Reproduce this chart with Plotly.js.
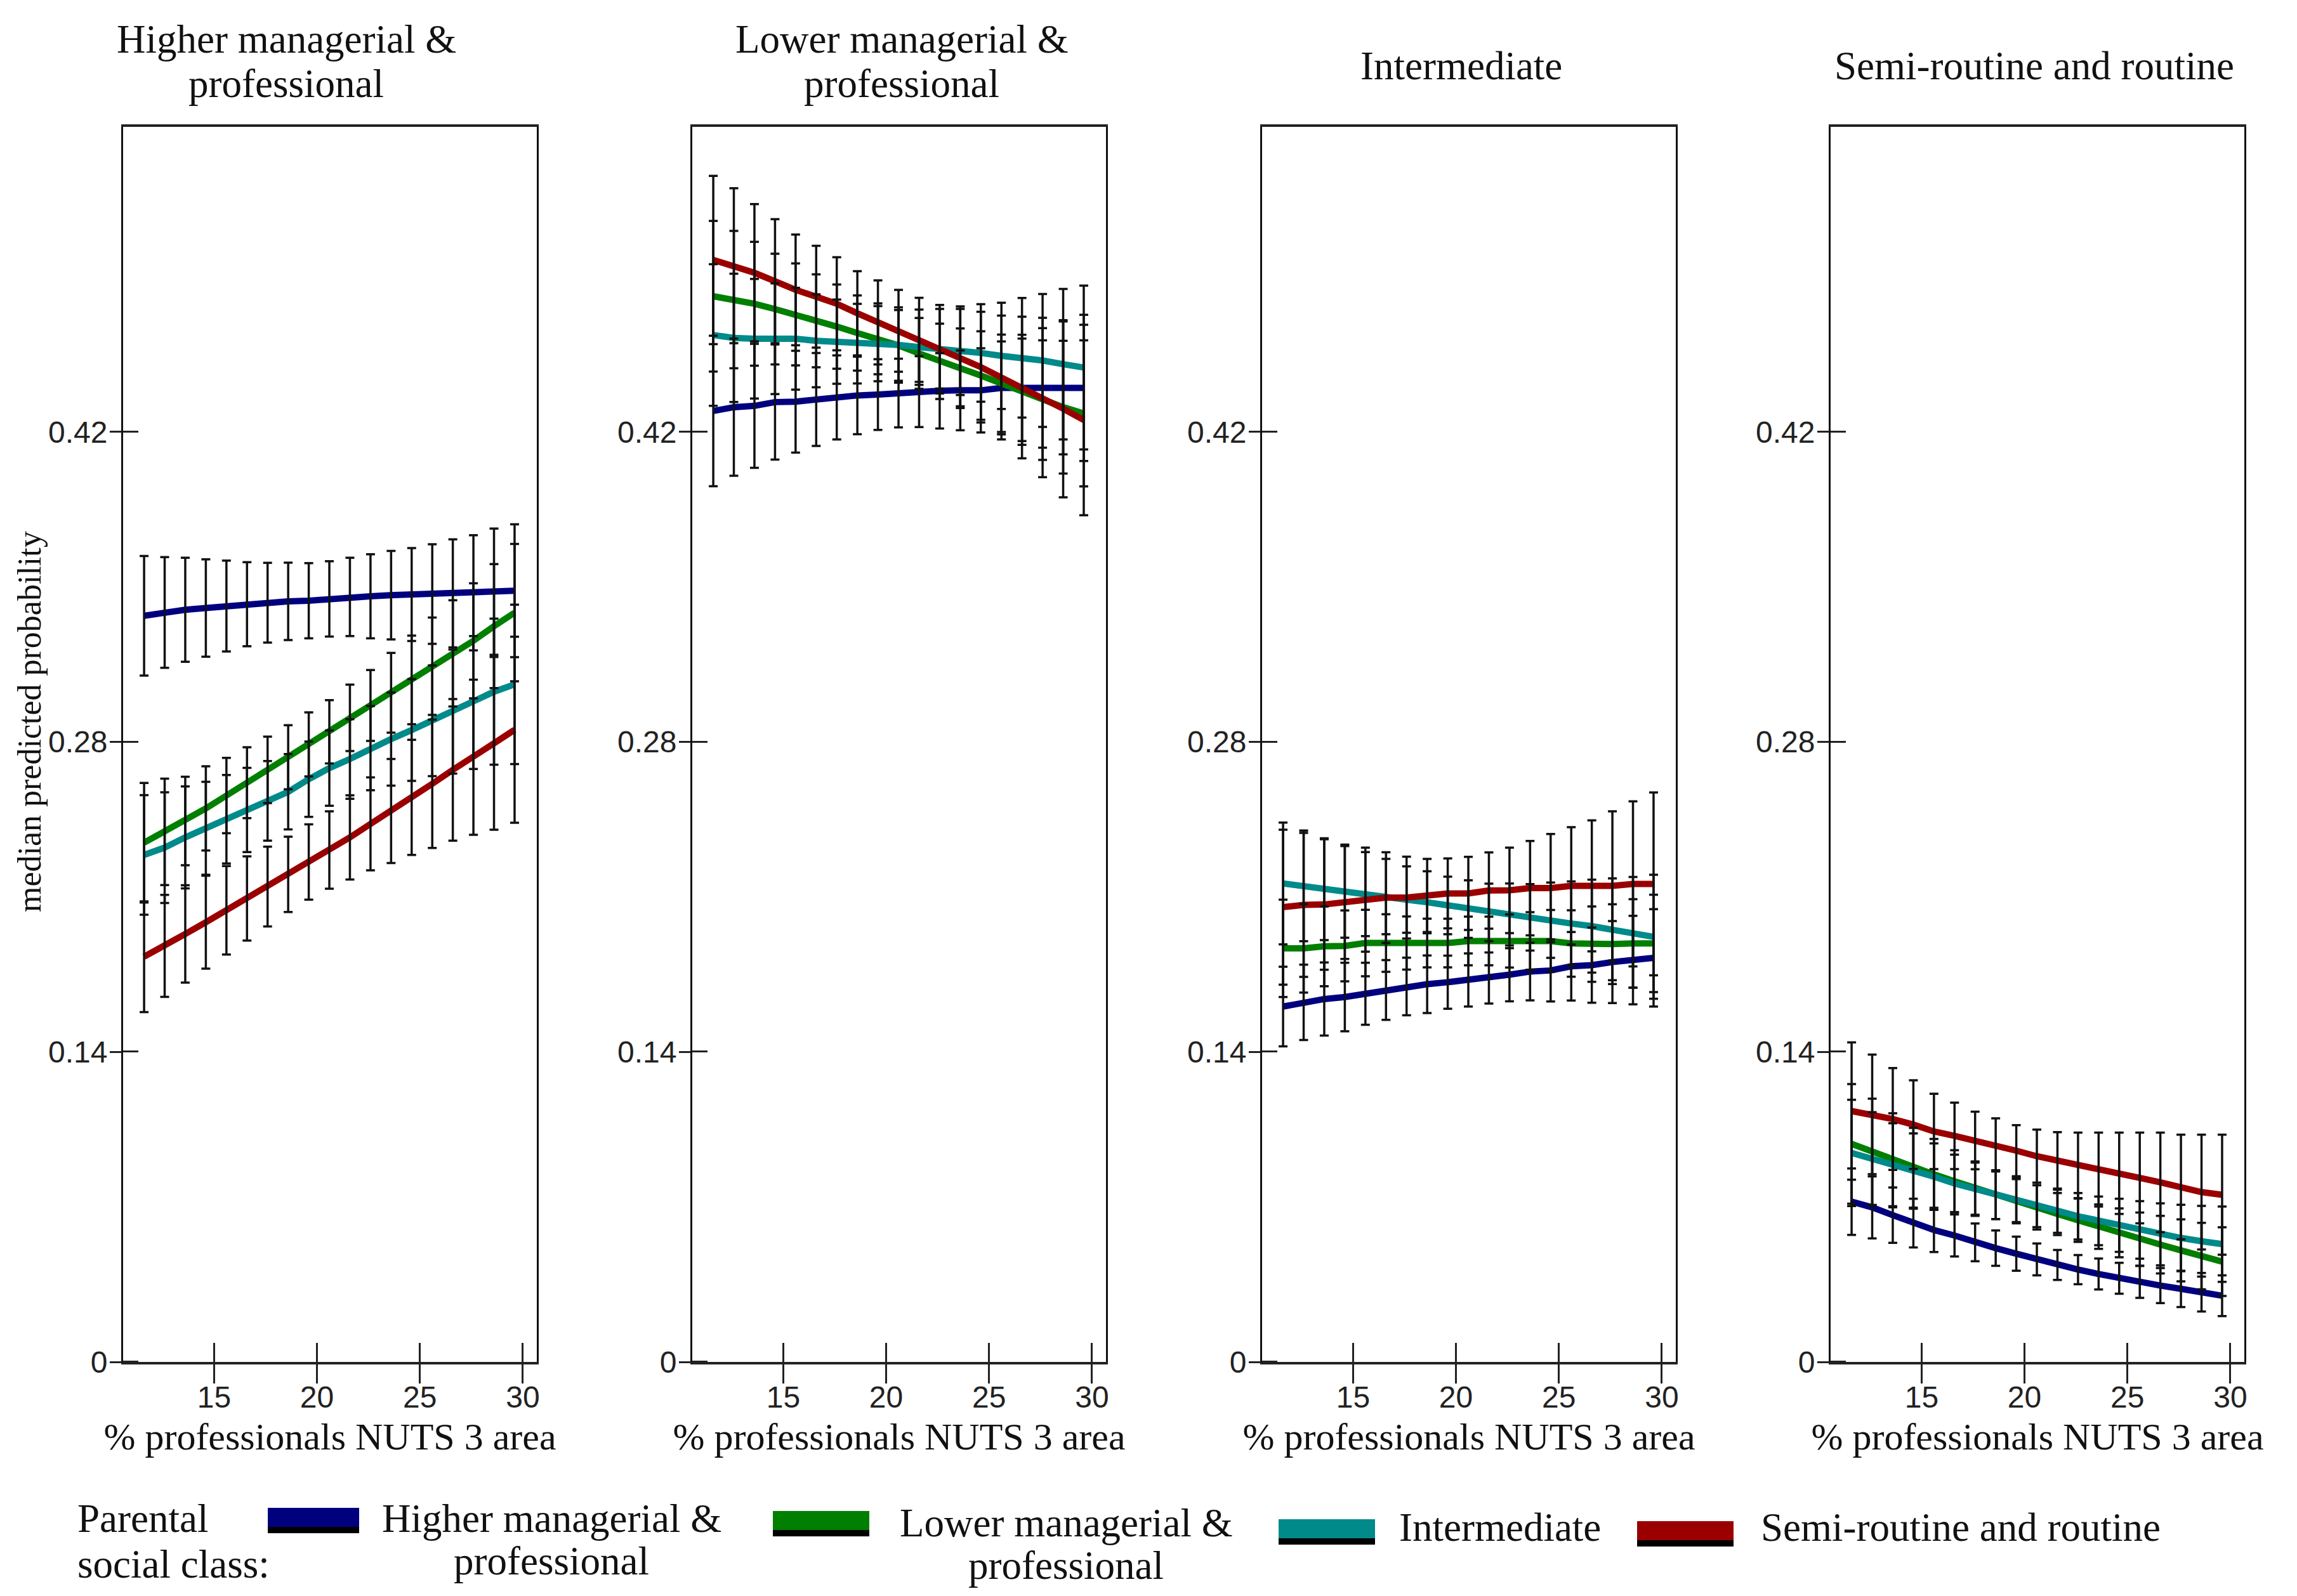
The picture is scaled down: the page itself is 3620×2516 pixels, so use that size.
<!DOCTYPE html>
<html>
<head>
<meta charset="utf-8">
<script src="https://cdn.plot.ly/plotly-3.0.1.min.js"></script>
<style>
html, body { margin: 0; padding: 0; background: #ffffff; }
#chart { width: 3620px; height: 2516px; }
</style>
</head>
<body>
<div id="chart"></div>
<script>
// ---------------- DATA ----------------
const panelTitleLines = [["Higher managerial &", "professional"], ["Lower managerial &", "professional"], ["Intermediate"], ["Semi-routine and routine"]];
const seriesNames = ["Higher managerial & professional", "Lower managerial & professional", "Intermediate", "Semi-routine and routine"];
const legendLabelLines = [["Higher managerial &", "professional"], ["Lower managerial &", "professional"], ["Intermediate"], ["Semi-routine and routine"]];
const legendHeadingLines = ["Parental", "social class:"];
const xTitle = "% professionals NUTS 3 area";
const yTitle = "median predicted probability";
const xTickVals = [15, 20, 25, 30];
const yTickVals = [0, 0.14, 0.28, 0.42];
const yTickText = ["0", "0.14", "0.28", "0.42"];

// % professionals in NUTS 3 area (x of every point / error bar)
const pctProfessionals = [11.6, 12.6, 13.6, 14.6, 15.6, 16.6, 17.6, 18.6, 19.6, 20.6, 21.6, 22.6, 23.6, 24.6, 25.6, 26.6, 27.6, 28.6, 29.6];

// Panel 1: destination Higher managerial & professional
const p1_higher = [0.3370,0.3385,0.3397,0.3405,0.3414,0.3422,0.3429,0.3435,0.3438,0.3446,0.3455,0.3458,0.3463,0.3466,0.3468,0.3471,0.3474,0.3479,0.3483];
const e1_higher = [0.027,0.025,0.0235,0.022,0.0205,0.019,0.018,0.0175,0.017,0.017,0.0177,0.019,0.020,0.021,0.0225,0.0244,0.026,0.0285,0.030];
const p1_lower  = [0.2345,0.2394,0.2443,0.2500,0.2558,0.2616,0.2674,0.2731,0.2789,0.2846,0.2909,0.2965,0.3022,0.3080,0.3142,0.3200,0.3257,0.3323,0.3384];
const e1_lower  = [0.027,0.024,0.020,0.019,0.017,0.016,0.015,0.0145,0.0145,0.0143,0.015,0.016,0.018,0.020,0.022,0.024,0.026,0.028,0.031];
const p1_inter  = [0.2290,0.2323,0.2369,0.2410,0.2451,0.2493,0.2534,0.2575,0.2632,0.2682,0.2723,0.2772,0.2813,0.2854,0.2896,0.2937,0.2978,0.3027,0.3060];
const e1_inter  = [0.027,0.025,0.023,0.021,0.020,0.019,0.018,0.017,0.017,0.017,0.018,0.019,0.021,0.023,0.025,0.028,0.030,0.033,0.036];
const p1_semi   = [0.1830,0.1879,0.1933,0.1986,0.2040,0.2093,0.2147,0.2202,0.2258,0.2312,0.2369,0.2430,0.2488,0.2550,0.2611,0.2674,0.2731,0.2794,0.2855];
const e1_semi   = [0.025,0.023,0.022,0.021,0.020,0.019,0.018,0.017,0.017,0.0175,0.019,0.021,0.0235,0.026,0.029,0.032,0.035,0.039,0.042];

// Panel 2: destination Lower managerial & professional
const p2_higher = [0.4295,0.4312,0.4318,0.4335,0.4337,0.4347,0.4356,0.4365,0.4369,0.4376,0.4382,0.4386,0.4388,0.4388,0.4399,0.4399,0.4399,0.4399,0.4399];
const e2_higher = [0.034,0.031,0.028,0.026,0.023,0.021,0.019,0.0175,0.016,0.0155,0.016,0.017,0.018,0.019,0.021,0.024,0.027,0.030,0.033];
const p2_lower  = [0.4813,0.4798,0.4779,0.4755,0.4731,0.4702,0.4676,0.4647,0.4621,0.4591,0.4555,0.4519,0.4488,0.4455,0.4420,0.4382,0.4344,0.4312,0.4284];
const e2_lower  = [0.034,0.031,0.028,0.025,0.023,0.021,0.019,0.017,0.016,0.016,0.016,0.017,0.018,0.020,0.022,0.024,0.027,0.030,0.033];
const p2_inter  = [0.4638,0.4625,0.4621,0.4621,0.4621,0.4612,0.4608,0.4599,0.4599,0.4593,0.4583,0.4576,0.4567,0.4557,0.4544,0.4535,0.4523,0.4506,0.4491];
const e2_inter  = [0.032,0.029,0.027,0.025,0.023,0.021,0.019,0.018,0.017,0.017,0.017,0.018,0.020,0.022,0.024,0.027,0.030,0.034,0.037];
const p2_semi   = [0.4977,0.4951,0.4919,0.4881,0.4842,0.4811,0.4779,0.4736,0.4695,0.4657,0.4616,0.4574,0.4536,0.4493,0.4446,0.4401,0.4356,0.4305,0.4254];
const e2_semi   = [0.038,0.035,0.031,0.028,0.025,0.023,0.021,0.019,0.019,0.0185,0.019,0.020,0.022,0.025,0.028,0.032,0.036,0.040,0.043];

// Panel 3: destination Intermediate
const p3_higher = [0.1605,0.1624,0.1639,0.1648,0.1663,0.1680,0.1696,0.1706,0.1715,0.1725,0.1734,0.1749,0.1763,0.1768,0.1787,0.1792,0.1806,0.1815,0.1825];
const e3_higher = [0.018,0.017,0.0165,0.0155,0.014,0.0135,0.013,0.013,0.012,0.012,0.0115,0.012,0.013,0.014,0.0155,0.017,0.0185,0.020,0.022];
const p3_lower  = [0.1868,0.1868,0.1877,0.1879,0.1892,0.1892,0.1892,0.1892,0.1892,0.1901,0.1901,0.1901,0.1901,0.1901,0.1890,0.1887,0.1887,0.1890,0.1890];
const e3_lower  = [0.022,0.020,0.018,0.016,0.015,0.013,0.012,0.011,0.011,0.011,0.011,0.012,0.013,0.014,0.015,0.017,0.018,0.020,0.022];
const p3_inter  = [0.2161,0.2150,0.2135,0.2126,0.2113,0.2102,0.2088,0.2076,0.2062,0.2045,0.2030,0.2021,0.2008,0.1995,0.1980,0.1968,0.1954,0.1940,0.1920];
const e3_inter  = [0.0275,0.025,0.023,0.021,0.019,0.017,0.015,0.014,0.013,0.013,0.013,0.014,0.015,0.017,0.019,0.021,0.023,0.025,0.028];
const p3_semi   = [0.2054,0.2064,0.2066,0.2075,0.2088,0.2097,0.2097,0.2107,0.2116,0.2116,0.2129,0.2130,0.2140,0.2140,0.2150,0.2150,0.2150,0.2159,0.2159];
const e3_semi   = [0.035,0.0325,0.0295,0.0255,0.0235,0.0205,0.0185,0.0165,0.0158,0.0165,0.0172,0.0193,0.0213,0.0244,0.0265,0.0296,0.0337,0.0373,0.0413];

// Panel 4: destination Semi-routine and routine
const p4_higher = [0.0724,0.0698,0.0663,0.0627,0.0596,0.0571,0.0540,0.0514,0.0489,0.0463,0.0438,0.0417,0.0397,0.0378,0.0361,0.0345,0.0330,0.0315,0.0299];
const e4_higher = [0.015,0.014,0.0125,0.011,0.010,0.0095,0.0085,0.008,0.0077,0.0072,0.0068,0.0066,0.007,0.007,0.0072,0.0079,0.0082,0.0087,0.0092];
const p4_lower  = [0.0985,0.0949,0.0913,0.0877,0.0847,0.0816,0.0785,0.0755,0.0726,0.0698,0.0668,0.0640,0.0611,0.0583,0.0555,0.0530,0.0504,0.0478,0.0453];
const e4_lower  = [0.027,0.024,0.021,0.018,0.016,0.014,0.012,0.011,0.010,0.010,0.0095,0.0098,0.010,0.011,0.012,0.013,0.014,0.015,0.0155];
const p4_inter  = [0.0944,0.0918,0.0888,0.0862,0.0837,0.0806,0.0780,0.0755,0.0732,0.0709,0.0683,0.0658,0.0637,0.0617,0.0596,0.0576,0.0560,0.0545,0.0532];
const e4_inter  = [0.024,0.021,0.019,0.017,0.015,0.013,0.012,0.011,0.010,0.010,0.010,0.0105,0.011,0.012,0.013,0.014,0.015,0.016,0.017];
const p4_semi   = [0.1133,0.1118,0.1097,0.1072,0.1041,0.1021,0.1000,0.0980,0.0954,0.0929,0.0908,0.0888,0.0869,0.0852,0.0831,0.0811,0.0790,0.0767,0.0755];
const e4_semi   = [0.031,0.027,0.023,0.020,0.017,0.015,0.013,0.012,0.0115,0.012,0.013,0.0148,0.0167,0.0184,0.0205,0.0225,0.0236,0.0259,0.0271];

// ---------------- STYLE / BUILD ----------------
const colors = ["#00007f", "#007f00", "#008a8a", "#9b0000"];
const serif = "Liberation Serif, DejaVu Serif, serif";
const narrow = "Liberation Sans Narrow, Arial Narrow, Liberation Sans, sans-serif";
const textSize = 63;

const panels = [
  { vals: [p1_higher, p1_lower, p1_inter, p1_semi], errs: [e1_higher, e1_lower, e1_inter, e1_semi] },
  { vals: [p2_higher, p2_lower, p2_inter, p2_semi], errs: [e2_higher, e2_lower, e2_inter, e2_semi] },
  { vals: [p3_higher, p3_lower, p3_inter, p3_semi], errs: [e3_higher, e3_lower, e3_inter, e3_semi] },
  { vals: [p4_higher, p4_lower, p4_inter, p4_semi], errs: [e4_higher, e4_lower, e4_inter, e4_semi] }
];

const W = 3620, H = 2516;
const px = v => v / W;
const py = v => 1 - v / H;
const panelLeft = [194, 1091, 1989, 2885];
const panelWidth = 652;
const plotTop = 200, plotBottom = 2147;

const traces = [];
const errTraces = [];
panels.forEach((pn, p) => {
  const xa = p === 0 ? "x" : "x" + (p + 1);
  const ya = p === 0 ? "y" : "y" + (p + 1);
  pn.vals.forEach((vals, s) => {
    traces.push({
      type: "scatter", mode: "lines", x: pctProfessionals, y: vals,
      xaxis: xa, yaxis: ya, name: seriesNames[s], showlegend: false,
      line: { color: colors[s], width: 10 }, hoverinfo: "x+y+name"
    });
    errTraces.push({
      type: "scatter", mode: "markers", x: pctProfessionals, y: vals,
      xaxis: xa, yaxis: ya, name: seriesNames[s] + " CI", showlegend: false,
      marker: { size: 2, color: "rgba(0,0,0,0)" },
      error_y: { type: "data", array: pn.errs[s], visible: true, color: "#111111", thickness: 3.5, width: 7 },
      hoverinfo: "skip"
    });
  });
});

const layout = {
  width: W, height: H,
  margin: { l: 0, r: 0, t: 0, b: 0 },
  paper_bgcolor: "#ffffff", plot_bgcolor: "#ffffff",
  showlegend: false,
  font: { family: serif, color: "#111111" },
  annotations: [], shapes: []
};

for (let p = 0; p < 4; p++) {
  const sfx = p === 0 ? "" : String(p + 1);
  layout["xaxis" + sfx] = {
    domain: [px(panelLeft[p]), px(panelLeft[p] + panelWidth)],
    anchor: "y" + sfx,
    range: [10.58, 30.68],
    tickmode: "array", tickvals: xTickVals,
    ticks: "outside", ticklen: 30, tickwidth: 3, tickcolor: "#222222",
    ticklabelstandoff: -20,
    minor: { tickmode: "array", tickvals: xTickVals.map(v => v + 0.001), ticks: "inside", ticklen: 30, tickwidth: 3, tickcolor: "#222222", showgrid: false },
    showline: true, linewidth: 4, linecolor: "#222222", mirror: true,
    showgrid: false, zeroline: false,
    tickfont: { family: narrow, size: 48, color: "#222222" },
    title: { text: xTitle, font: { family: serif, size: 60, color: "#111111" }, standoff: 16 },
    fixedrange: true
  };
  layout["yaxis" + sfx] = {
    domain: [py(plotBottom), py(plotTop)],
    anchor: "x" + sfx,
    range: [0, 0.5578],
    tickmode: "array", tickvals: yTickVals, ticktext: yTickText,
    ticks: "outside", ticklen: 18, tickwidth: 3, tickcolor: "#222222",
    ticklabelstandoff: -6,
    minor: { tickmode: "array", tickvals: yTickVals.map(v => v + 0.0001), ticks: "inside", ticklen: 24, tickwidth: 3, tickcolor: "#222222", showgrid: false },
    showline: true, linewidth: 3, linecolor: "#111111", mirror: true,
    showgrid: false, zeroline: false,
    tickfont: { family: narrow, size: 48, color: "#222222" },
    fixedrange: true
  };
}

function addText(text, x, y, anchor, size) {
  layout.annotations.push({
    text: text, xref: "paper", yref: "paper", x: px(x), y: py(y),
    xanchor: anchor, yanchor: "middle", showarrow: false, align: "center",
    font: { family: serif, size: size, color: "#111111" }
  });
}

// Panel titles (one annotation per line for tight line spacing)
const titleX = [451, 1421, 2303, 3206];
const titleLineY = [[62, 132], [62, 132], [104], [104]];
panelTitleLines.forEach((lines, i) => {
  lines.forEach((ln, j) => addText(ln, titleX[i], titleLineY[i][j], "center", textSize));
});

// y-axis title
layout.annotations.push({
  text: yTitle, xref: "paper", yref: "paper", x: px(46), y: py(1138),
  xanchor: "center", yanchor: "middle", showarrow: false, textangle: -90,
  font: { family: serif, size: 52, color: "#111111" }
});

// Legend (drawn manually)
addText(legendHeadingLines[0], 120, 2394, "left", textSize);
addText(legendHeadingLines[1], 120, 2466, "left", textSize);
const swatches = [
  { x0: 422, x1: 566, y0: 2377, y1: 2415 },
  { x0: 1218, x1: 1370, y0: 2382, y1: 2420 },
  { x0: 2015, x1: 2167, y0: 2395, y1: 2433 },
  { x0: 2580, x1: 2732, y0: 2398, y1: 2436 }
];
const labelX = [869, 1680, 2203, 2773];
const labelAnchor = ["center", "center", "left", "left"];
const labelLineY = [[2394, 2461], [2401, 2468], [2408], [2408]];
swatches.forEach((s, i) => {
  layout.shapes.push({
    type: "rect", xref: "paper", yref: "paper",
    x0: px(s.x0), x1: px(s.x1), y0: py(s.y1), y1: py(s.y0),
    fillcolor: colors[i], line: { width: 0 }
  });
  layout.shapes.push({
    type: "rect", xref: "paper", yref: "paper",
    x0: px(s.x0), x1: px(s.x1), y0: py(s.y1 + 2), y1: py(s.y1 - 8),
    fillcolor: "#000000", line: { width: 0 }
  });
  legendLabelLines[i].forEach((ln, j) => addText(ln, labelX[i], labelLineY[i][j], labelAnchor[i], textSize));
});

Plotly.newPlot("chart", traces.concat(errTraces), layout, { displayModeBar: false, staticPlot: true });
</script>
</body>
</html>
